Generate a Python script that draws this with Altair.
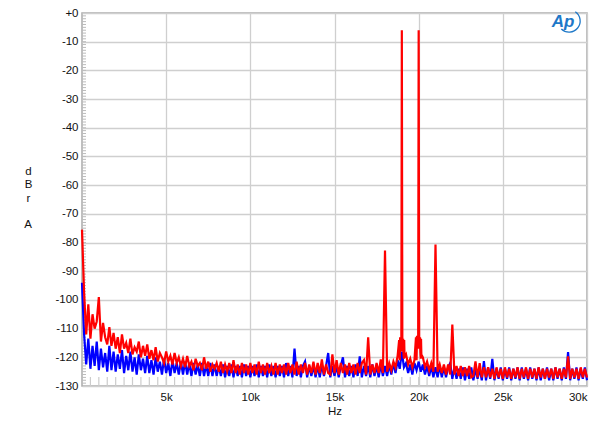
import altair as alt
import pandas as pd

W, H = 505, 373

# FFT bins, 125 Hz apart, 0 .. 30 kHz
hz = [i * 125 for i in range(241)]

# red trace, one line per 2 kHz
red_db = [
    -75.5, -97.5, -112, -101.5, -113.5, -105, -110, -107.5, -99, -114.5, -108, -113, -115.5, -109.5, -116, -111.5,
    -117, -113, -118.5, -112, -117, -115, -118.5, -113.5, -119, -116.5, -118, -114.5, -120, -116, -119.5, -115.5,
    -120.5, -117.5, -121, -116.5, -121.5, -118.5, -120, -122, -118, -121.5, -119.5, -122.5, -118.5, -122, -120, -123,
    -120.5, -123.5, -119.5, -123, -121.5, -124.5, -120.5, -123, -122, -124.5, -120, -124, -121.5, -125, -122.5, -124,
    -122, -125, -121.5, -125.5, -122.5, -125, -122, -125.5, -121, -125.5, -122.5, -126, -122, -125.5, -122.5, -126,
    -122, -125.5, -122.5, -126, -121.5, -125.5, -122.5, -126, -122, -125.5, -123, -126, -122, -126, -122.5, -125.5,
    -122.5, -126, -122, -125.5, -122.5, -126, -121.5, -126, -122.5, -125.5, -122, -126, -122.5, -125.5, -121.5, -126,
    -122, -125.5, -120.7, -126, -122.5, -125.5, -126, -119, -125.5, -121, -126, -122, -125.5, -122.5, -126, -122,
    -125.5, -122.5, -126, -122, -125.5, -122, -121, -126, -113, -126, -122.5, -125.5, -122, -125.5, -120.7, -125.5,
    -82.8, -125, -122, -124.5, -121.5, -123.5, -119.5, -121, -6, -120.5, -119, -122.5, -120.5, -123.5, -121, -121,
    -6, -120.5, -120, -123.5, -121.5, -124.5, -122, -125, -80.7, -125, -122.5, -125.5, -122.5, -126, -122.5, -126,
    -108.6, -126, -123, -126.5, -123, -126.5, -123.5, -126.5, -123, -127, -126.5, -121.4, -127, -122, -127, -123.5,
    -127, -123.5, -127, -124, -127.5, -123.5, -127, -124, -127.5, -123.5, -127, -124, -127.5, -124, -127, -123.5,
    -127.5, -124, -127, -123.5, -127.5, -124, -127, -124, -127.5, -123.5, -127, -124, -127.5, -124, -127, -124,
    -127.5, -123.5, -127, -124, -127.5, -124, -127, -119.7, -127.5, -124, -127, -124, -127.5, -123.5, -127, -124,
    -127,
]

# blue trace
blue_db = [
    -94, -112, -122.5, -113.5, -124, -116, -123, -114.5, -124.5, -117, -123.5, -118.5, -125, -116, -124.5, -118,
    -125, -119, -124, -117.5, -125.5, -119.5, -124.5, -118, -125, -120, -126, -119, -124.5, -120.5, -125.5, -119.5,
    -125.5, -121, -126, -120, -125, -121.5, -126, -120.5, -125.5, -122, -126.5, -121, -125.5, -122, -126, -121.5,
    -126, -121.5, -126, -122, -126.5, -122, -126, -122.5, -126.5, -122, -126.5, -122.5, -126.5, -122, -126.5, -122.5,
    -126.5, -123, -126.5, -122.5, -127, -123, -126.5, -122.5, -127, -123, -126.5, -123, -127, -122.5, -126.5, -123,
    -127, -123, -126.5, -122.5, -127, -123, -126.5, -123, -127, -122.5, -126.5, -123, -127, -123, -126.5, -123,
    -127, -122, -126.5, -123, -127, -117, -126.5, -123, -127, -123, -121.5, -127, -123, -126.5, -123, -127,
    -123, -127, -122.5, -126.5, -123, -118.5, -127, -123, -126.5, -123, -127, -123, -120, -127, -123, -126.5,
    -123, -127, -122.5, -126.5, -119.7, -127, -123, -126.5, -123, -127, -122.5, -126.5, -123, -127, -122.5, -126.5,
    -123, -126.5, -122.5, -126, -122, -125.5, -121, -124, -118, -123.5, -122, -125.5, -122.5, -126, -122, -124.5,
    -121.5, -125, -122.5, -126, -123, -126.5, -123, -127, -123.5, -127, -123, -127, -123.5, -127, -123.5, -122,
    -127.5, -123.5, -127.5, -124, -127.5, -123.5, -128, -124, -127.5, -123.5, -128, -124, -127.5, -124, -128, -121.3,
    -128, -123.5, -127.5, -120.5, -128, -124, -127.5, -123.5, -128, -124, -127.5, -123.5, -128, -124, -127.5, -123.5,
    -128, -123.5, -127.5, -124, -128, -123.5, -127.5, -124, -128, -123.5, -128, -124, -127.5, -123.5, -128, -124,
    -128, -123.5, -127.5, -124, -128, -123.5, -127.5, -118.2, -128, -124, -127.5, -123.5, -128, -124, -127.5, -123.5,
    -128,
]

# skirts of the red 19 kHz and 20 kHz tones
red_skirt_hz = [18840, 18860, 18900, 18920, 18950, 18970, 19030, 19050, 19080, 19100, 19140, 19160,
                19840, 19860, 19900, 19920, 19950, 19970, 20030, 20050, 20080, 20100, 20140, 20160]
red_skirt_db = [-114, -119, -113, -118, -113.5, -117, -113, -118, -113.5, -119, -114, -120,
                -113, -118, -112.5, -117, -112.5, -116, -112.5, -117, -113, -118, -113.5, -119]

x_ticks = [5000, 10000, 15000, 20000, 25000, 30000]
y_ticks = list(range(-130, 1, 10))
x_minor = list(range(500, 30000, 500))
y_minor = list(range(-129, 0))

red = pd.DataFrame({"hz": hz + red_skirt_hz, "db": red_db + red_skirt_db}).sort_values("hz")
blue = pd.DataFrame({"hz": hz, "db": blue_db})

x_scale = alt.Scale(domain=[0, 30000], nice=False, zero=False)
y_scale = alt.Scale(domain=[-130, 0], nice=False, zero=False)

x_axis = alt.Axis(values=x_ticks, labelExpr="datum.value / 1000 + 'k'", title="Hz",
                  grid=True, ticks=False, tickSize=0, domain=False, labelFlush=True,
                  labelPadding=5, titlePadding=3)
y_axis = alt.Axis(values=y_ticks, labelExpr="datum.value == 0 ? '+0' : datum.value",
                  title=["d", "B", "r"], titleAngle=0, titleAlign="center",
                  titleBaseline="top", titleX=-54, titleY=152, titleLineHeight=13.5,
                  grid=True, ticks=False, tickSize=0, domain=False, labelPadding=4)

x_enc = alt.X("hz:Q", scale=x_scale, axis=x_axis)
y_enc = alt.Y("db:Q", scale=y_scale, axis=y_axis)

y_minor_ticks = alt.Chart(pd.DataFrame({"db": y_minor})).mark_rule(color="#bbbbbb", strokeWidth=1).encode(
    x=alt.value(0), x2=alt.value(4), y=y_enc,
)
x_minor_ticks = alt.Chart(pd.DataFrame({"hz": x_minor})).mark_rule(color="#cccccc", strokeWidth=1.2).encode(
    x=x_enc, y=alt.value(H), y2=alt.value(H - 9),
)

blue_line = alt.Chart(blue).mark_line(color="#0000ff", strokeWidth=2.2).encode(x=x_enc, y=y_enc)
red_line = alt.Chart(red).mark_line(color="#ff0000", strokeWidth=2.2).encode(x=x_enc, y=y_enc)

# last letter of the stacked "dBr A" unit, set apart from the rest
unit_a = alt.Chart(pd.DataFrame({"t": ["A"]})).mark_text(
    font="Liberation Sans", fontSize=11.5, color="#111111", align="center", baseline="middle",
).encode(x=alt.value(-54), y=alt.value(212), text="t:N")

# Audio Precision badge, top right
logo_text = alt.Chart(pd.DataFrame({"t": ["Ap"]})).mark_text(
    font="Liberation Sans", fontSize=17, fontStyle="italic", fontWeight="bold",
    color="#1e78c8", align="center", baseline="middle",
).encode(x=alt.value(481), y=alt.value(9), text="t:N")
logo_swoosh = alt.Chart(pd.DataFrame({"t": ["Ap"]})).mark_arc(
    innerRadius=10.5, outerRadius=11.8, color="#1e78c8",
).encode(x=alt.value(487), y=alt.value(8), theta=alt.value(0.6), theta2=alt.value(3.9))

chart = alt.layer(y_minor_ticks, x_minor_ticks, blue_line, red_line, unit_a, logo_text, logo_swoosh).properties(
    width=W, height=H, autosize="none",
    padding={"left": 74, "top": 5, "right": 5, "bottom": 33},
).configure_view(
    stroke="#aaaaaa", strokeWidth=1.5,
).configure_axis(
    gridColor="#cfcfcf", gridWidth=1.3,
    labelFont="Liberation Sans", labelFontSize=11.5, labelColor="#111111",
    titleFont="Liberation Sans", titleFontSize=11.5, titleFontWeight="normal", titleColor="#111111",
)

chart.save("out.html", embed_options={"renderer": "svg", "actions": False})
